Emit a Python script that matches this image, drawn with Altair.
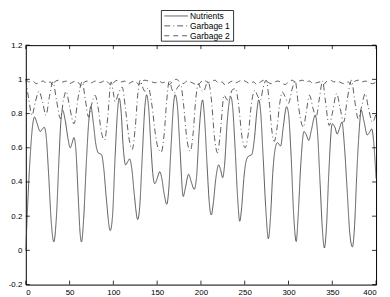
import altair as alt
import pandas as pd

series_names = ["Nutrients", "Garbage 1", "Garbage 2"]

nut_x = [0, 2, 5, 8, 10, 13, 16.4, 19, 21, 23, 26, 29, 32, 35, 38, 40, 42, 45, 48, 50.7, 53, 55, 57, 60, 62, 63.6,
         66, 69, 72, 74.3, 77, 80, 82.8, 86.5, 89, 92, 96.4, 99, 102, 105, 106.7, 109, 111, 114, 116.5, 118.6, 121,
         124, 127.8, 130, 133, 136, 138, 140, 143, 145, 147.3, 150, 152.9, 155, 158, 161, 163, 166, 169, 170.5, 173,
         176, 179.8, 182, 186, 189, 192.3, 195, 198, 201.9, 204, 207, 209.5, 211.8, 214, 217, 220.3, 222.5, 224.8,
         227, 230, 234, 236, 239, 242, 244.3, 246.5, 249, 251.5, 254.2, 258, 261, 264, 266, 268, 271, 274, 277,
         279.5, 282, 285, 287.4, 291, 294, 297.8, 300, 303, 306, 308.8, 311, 314, 317.7, 320, 323.2, 326, 330.5,
         333, 336, 339, 341, 343.5, 346, 350, 353, 355.6, 358, 361, 364, 367, 370, 373, 375.5, 378, 381, 383, 386,
         390, 392.5, 395, 397, 400]
nut_y = [0.0, 0.25, 0.55, 0.74, 0.78, 0.74, 0.695, 0.71, 0.72, 0.68, 0.45, 0.17, 0.05, 0.2, 0.55, 0.75, 0.82, 0.76,
         0.66, 0.60, 0.63, 0.66, 0.6, 0.3, 0.1, 0.05, 0.18, 0.5, 0.76, 0.84, 0.75, 0.62, 0.57, 0.56, 0.48, 0.3,
         0.116, 0.2, 0.55, 0.83, 0.89, 0.8, 0.62, 0.50, 0.52, 0.535, 0.48, 0.32, 0.18, 0.25, 0.55, 0.84, 0.91,
         0.85, 0.6, 0.45, 0.39, 0.42, 0.46, 0.43, 0.33, 0.27, 0.34, 0.62, 0.87, 0.91, 0.85, 0.6, 0.315, 0.36,
         0.445, 0.40, 0.357, 0.43, 0.7, 0.88, 0.78, 0.5, 0.28, 0.207, 0.27, 0.42, 0.50, 0.47, 0.425, 0.5, 0.75,
         0.90, 0.85, 0.6, 0.3, 0.17, 0.25, 0.42, 0.52, 0.55, 0.56, 0.65, 0.82, 0.88, 0.82, 0.55, 0.25, 0.068,
         0.2, 0.45, 0.6, 0.63, 0.61, 0.72, 0.84, 0.8, 0.55, 0.2, 0.052, 0.2, 0.5, 0.695, 0.68, 0.643, 0.7, 0.79,
         0.7, 0.4, 0.1, 0.014, 0.15, 0.45, 0.74, 0.72, 0.68, 0.71, 0.75, 0.6, 0.35, 0.1, 0.02, 0.15, 0.45, 0.72,
         0.82, 0.76, 0.675, 0.69, 0.71, 0.65, 0.42]

g1_x = [0, 3.5, 7, 11, 15, 19, 23, 27, 31, 35, 39.6, 43, 46, 50, 55, 60, 64.4, 68, 71.7, 75, 79, 83, 86, 90, 93,
        97.5, 100, 102, 106, 110, 114, 118, 121.5, 125, 128, 130.7, 133, 136, 140, 144, 148, 151, 154.7, 158, 161,
        164, 167, 169.5, 173, 176.8, 180, 184, 187.8, 191, 194, 197, 200, 203, 208, 212, 215.5, 219, 222, 226.5,
        230, 233, 236, 239.5, 243, 247, 250.5, 254, 258, 261.6, 265, 268, 271, 274.5, 278, 281, 283.7, 287, 290,
        293, 296, 300, 304, 307.7, 311, 314, 317, 320, 324, 328, 331.6, 335, 339, 342, 346.5, 350, 355, 359, 363,
        367, 372, 375.5, 379.6, 383, 387.7, 391, 396, 400]
g1_y = [1.0, 0.88, 0.79, 0.87, 0.93, 0.87, 0.79, 0.9, 0.985, 0.88, 0.77, 0.88, 0.93, 0.84, 0.74, 0.9, 0.985, 0.88,
        0.78, 0.85, 0.907, 0.82, 0.7, 0.645, 0.75, 0.985, 0.92, 0.87, 0.92, 0.955, 0.82, 0.65, 0.59, 0.72, 0.92,
        0.995, 0.96, 0.93, 0.95, 0.85, 0.68, 0.6, 0.575, 0.68, 0.88, 0.995, 0.94, 0.92, 0.95, 0.97, 0.86, 0.65,
        0.58, 0.68, 0.88, 0.975, 0.94, 0.93, 0.99, 0.88, 0.66, 0.57, 0.68, 0.907, 0.88, 0.9, 0.94, 0.946, 0.85,
        0.66, 0.60, 0.68, 0.87, 0.936, 0.9, 0.88, 0.95, 0.995, 0.87, 0.7, 0.637, 0.72, 0.86, 0.926, 0.9, 0.86,
        0.94, 0.99, 0.86, 0.76, 0.72, 0.8, 0.907, 0.83, 0.78, 0.88, 0.99, 0.88, 0.73, 0.8, 0.917, 0.83, 0.75,
        0.88, 0.995, 0.88, 0.77, 0.83, 0.917, 0.84, 0.75, 0.8]

g2_x = [0, 4, 8, 12, 16, 20, 24, 28, 31, 34, 38, 42, 46, 50, 54, 58, 61, 64, 67, 71, 75, 79, 83, 87, 91, 95, 98,
        101, 105, 109, 113, 117, 121, 125, 129, 132, 136, 140, 144, 148, 152, 156, 160, 164, 168, 172, 176, 180,
        184, 188, 192, 196, 200, 204, 208, 212, 216, 220, 224, 228, 232, 236, 240, 244, 248, 252, 256, 260, 264,
        268, 272, 276, 280, 284, 288, 292, 296, 300, 304, 308, 312, 316, 320, 324, 328, 332, 336, 340, 344, 348,
        352, 356, 360, 364, 368, 372, 376, 380, 384, 388, 392, 396, 400]
g2_y = [1.0, 0.985, 0.99, 0.975, 0.985, 0.99, 0.975, 0.985, 0.965, 0.99, 0.995, 0.985, 0.99, 0.975, 0.985, 0.99,
        0.975, 0.96, 0.985, 0.99, 0.98, 0.99, 0.98, 0.985, 0.995, 0.975, 0.965, 0.985, 0.995, 0.985, 0.99, 0.975,
        0.985, 0.99, 0.97, 0.985, 0.995, 0.99, 0.985, 0.98, 0.99, 0.98, 0.985, 0.97, 0.99, 1.0, 0.985, 0.975,
        0.99, 0.985, 0.975, 0.965, 0.985, 0.995, 0.98, 0.99, 0.995, 0.98, 0.985, 0.965, 0.98, 0.99, 0.98, 0.99,
        0.995, 0.985, 0.975, 0.985, 0.97, 0.985, 0.995, 0.985, 0.975, 0.985, 0.99, 0.98, 0.97, 0.985, 0.995,
        0.985, 0.99, 0.995, 0.985, 0.99, 0.975, 0.98, 0.985, 0.97, 0.99, 0.995, 0.985, 0.99, 0.98, 0.975, 0.985,
        0.97, 0.99, 0.995, 0.985, 0.99, 0.98, 0.975, 0.985]

x_ticks = [0, 50, 100, 150, 200, 250, 300, 350, 400]
y_ticks = [-0.2, 0, 0.2, 0.4, 0.6, 0.8, 1.0, 1.2]
dashes = [[1, 0], [6, 3, 1, 3], [5, 4]]

frames = []
for name, xs_, ys_ in [("Nutrients", nut_x, nut_y), ("Garbage 1", g1_x, g1_y), ("Garbage 2", g2_x, g2_y)]:
    frames.append(pd.DataFrame({"series": name, "x": xs_, "y": ys_}))
df = pd.concat(frames, ignore_index=True)

W, H = 354, 242
FONT = "Liberation Sans"
LINE = "#333"
xs = alt.Scale(domain=[0, 400], nice=False, zero=False)
ys = alt.Scale(domain=[-0.2, 1.2], nice=False, zero=False)

x_axis = alt.Axis(values=x_ticks, ticks=False, domain=False, grid=False, labelPadding=4, labelFontSize=8,
                  labelFont=FONT, labelColor="black", title=None)
y_axis = alt.Axis(values=y_ticks, ticks=False, domain=False, grid=False, labelPadding=4, labelFontSize=8,
                  labelFont=FONT, labelColor="black", title=None,
                  labelExpr="datum.value < 0 ? '-' + format(-datum.value, '~g') : format(datum.value, '~g')")

lines = alt.Chart(df).mark_line(interpolate="monotone", strokeWidth=0.8, color=LINE).encode(
    x=alt.X("x:Q", scale=xs, axis=x_axis),
    y=alt.Y("y:Q", scale=ys, axis=y_axis),
    strokeDash=alt.StrokeDash("series:N", scale=alt.Scale(domain=series_names, range=dashes), legend=None),
)

xt_df = pd.DataFrame({"x": x_ticks})
yt_df = pd.DataFrame({"y": y_ticks})
tick_style = dict(color="black", strokeWidth=0.8)
xb = alt.Chart(xt_df).mark_rule(**tick_style).encode(x=alt.X("x:Q", scale=xs, axis=x_axis), y=alt.value(H), y2=alt.value(H - 4))
xtp = alt.Chart(xt_df).mark_rule(**tick_style).encode(x=alt.X("x:Q", scale=xs, axis=x_axis), y=alt.value(0), y2=alt.value(4))
yl = alt.Chart(yt_df).mark_rule(**tick_style).encode(y=alt.Y("y:Q", scale=ys, axis=y_axis), x=alt.value(0), x2=alt.value(4))
yr = alt.Chart(yt_df).mark_rule(**tick_style).encode(y=alt.Y("y:Q", scale=ys, axis=y_axis), x=alt.value(W - 4), x2=alt.value(W))

one = pd.DataFrame({"a": [0]})
legend_layers = [
    alt.Chart(one).mark_rect(fill="white", stroke="black", strokeWidth=0.8).encode(
        x=alt.value(137), x2=alt.value(210), y=alt.value(-35), y2=alt.value(-4))
]
leg_y = [-29.5, -19.5, -9.5]
for name, dash, yy in zip(series_names, dashes, leg_y):
    legend_layers.append(alt.Chart(one).mark_rule(color=LINE, strokeWidth=0.8, strokeDash=dash).encode(
        x=alt.value(140), x2=alt.value(164), y=alt.value(yy)))
    legend_layers.append(alt.Chart(one).mark_text(align="left", baseline="middle", fontSize=8.5, font=FONT,
                                                  color="black", text=name).encode(
        x=alt.value(166), y=alt.value(yy)))

chart = alt.layer(lines, xb, xtp, yl, yr, *legend_layers).properties(
    width=W, height=H,
    background="white",
    autosize=alt.AutoSizeParams(type="none"),
    padding={"left": 18, "top": 36, "right": 6, "bottom": 12},
).configure_view(stroke="black", strokeWidth=1)

chart.save("out.html", embed_options={"renderer": "svg", "actions": False})
